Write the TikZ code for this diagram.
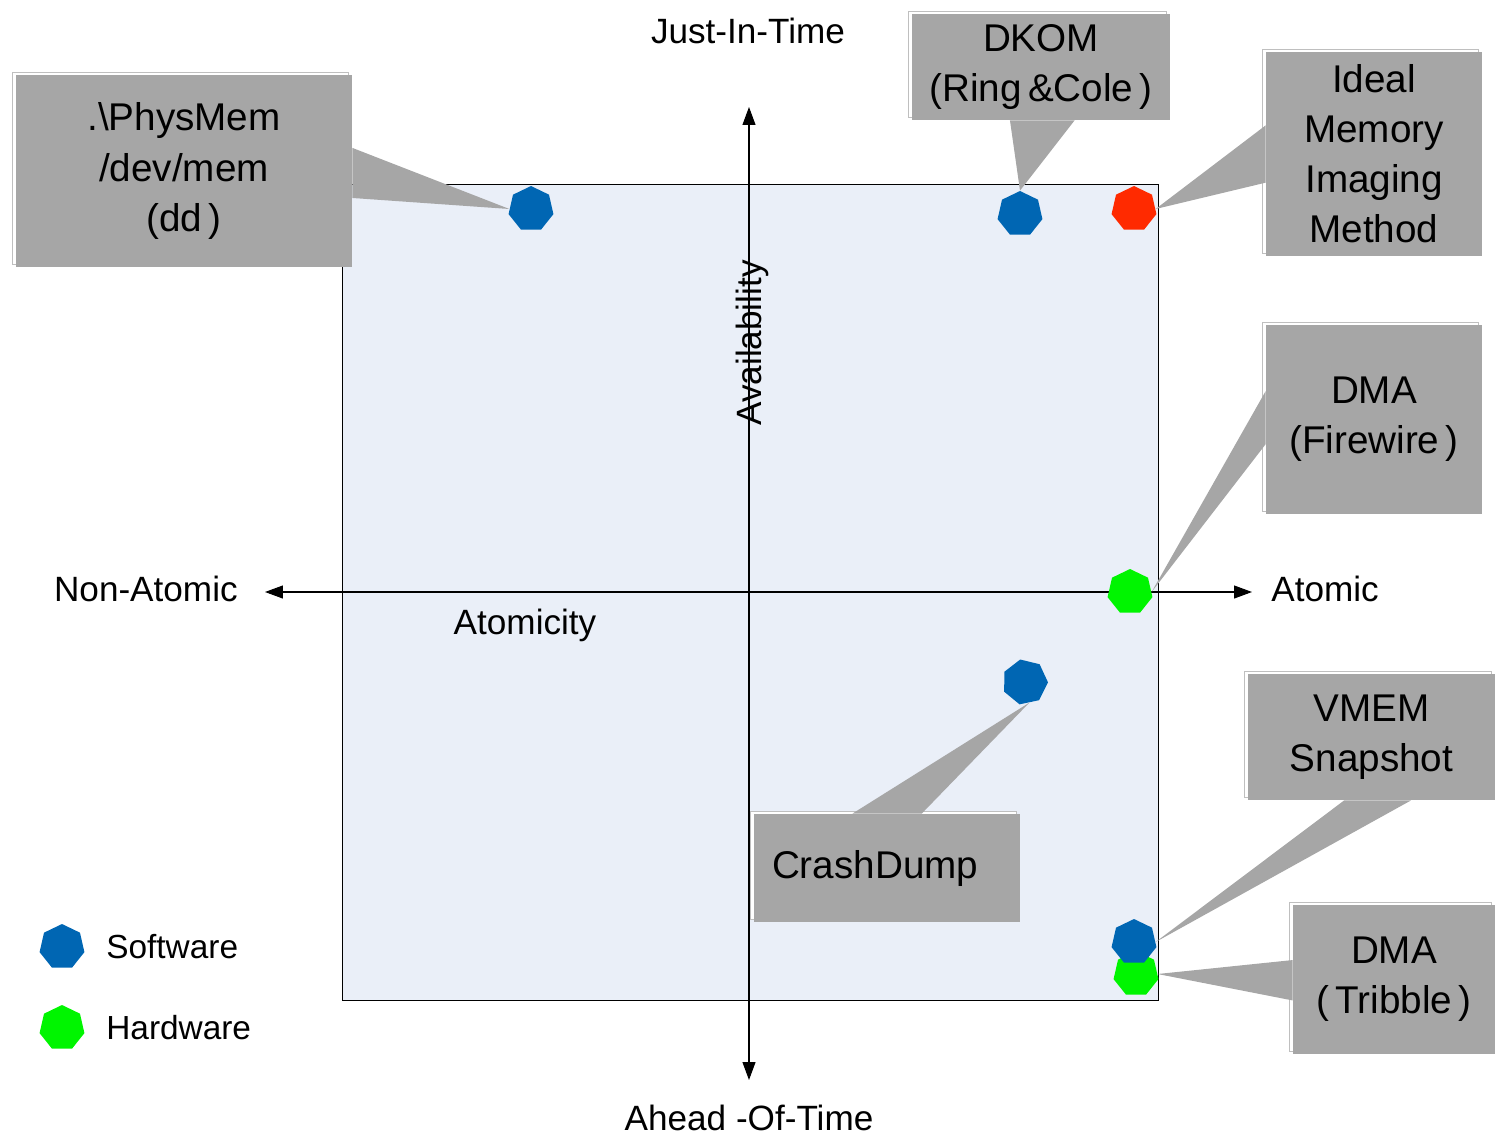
\documentclass[tikz,border=0pt]{standalone}
\usepackage{fontspec}
\setmainfont{Liberation Sans}
\usepackage{tikz}
\usetikzlibrary{shapes.geometric, arrows.meta, calc, shadows}

\definecolor{swblue}{RGB}{0,102,179}
\definecolor{hwgreen}{RGB}{0,245,0}
\definecolor{idealred}{RGB}{255,42,0}
\definecolor{callgray}{RGB}{166,166,166}
\definecolor{planebg}{RGB}{234,239,248}

\begin{document}
\begin{tikzpicture}[x=0.02cm, y=-0.02cm]
      \tikzstyle{method} = [regular polygon, regular polygon sides=7, minimum size=0.92cm, inner sep=0pt]
      \tikzstyle{sw} = [method, fill=swblue]
      \tikzstyle{hw} = [method, fill=hwgreen]
      \tikzstyle{callout} = [rectangle, fill=callgray, align=center, inner sep=0pt, font=\fontsize{22}{28.5}\selectfont, general shadow={draw=black!25, fill=white, shadow xshift=-0.07cm, shadow yshift=0.05cm}]
      \tikzstyle{pointer} = [fill=callgray]
      \tikzstyle{axis} = [line width=0.6pt, {Triangle[length=0.36cm,width=0.26cm]}-{Triangle[length=0.36cm,width=0.26cm]}]
      \tikzstyle{lbl} = [font=\fontsize{20}{24}\selectfont, inner sep=0pt]

      \useasboundingbox (0,0) rectangle (1495,1136);

      % plane and axes
      \draw [fill=planebg, line width=0.5pt] (342,184) rectangle (1158,1000);
      \coordinate (atomL) at (265,592);
      \coordinate (atomR) at (1252,592);
      \coordinate (jitTop) at (749,107);
      \coordinate (aotBot) at (749,1080);
      \draw [axis] (atomL) -- (atomR);
      \draw [axis] (aotBot) -- (jitTop);

      \node (jit) [lbl] at (748,31) {Just-In-Time};
      \node (aot) [lbl] at (749,1118) {Ahead -Of-Time};
      \node (nonatomic) [lbl, anchor=east] at (238,589) {Non-Atomic};
      \node (atomic) [lbl, anchor=west] at (1271,589) {Atomic};
      \node (atomicity) [lbl] at (525,625) {Atomicity};
      \node (availability) [lbl, rotate=90] at (752,343) {Availability};

      % callouts
      \node (physbox) [callout, minimum width=6.72cm, minimum height=3.84cm] at (184,171) {.\textbackslash PhysMem\\/dev/mem\\(dd\,)};
      \node (dkombox) [callout, minimum width=5.16cm, minimum height=2.12cm] at (1041,67) {DKOM\\(Ring\,\&Cole\,)};
      \node (idealbox) [callout, minimum width=4.32cm, minimum height=4.08cm] at (1374,154) {Ideal\\Memory\\Imaging\\Method};
      \node (firebox) [callout, minimum width=4.32cm, minimum height=3.78cm] at (1374,419.5) {DMA\\(Firewire\,)};
      \node (crashbox) [callout, minimum width=5.32cm, minimum height=2.16cm, text width=5.32cm, align=left] at (887,868) {\hspace*{0.36cm}CrashDump};
      \node (vmembox) [callout, minimum width=4.94cm, minimum height=2.52cm] at (1371.5,737) {VMEM\\Snapshot};
      \node (tribbox) [callout, minimum width=4.04cm, minimum height=2.98cm] at (1394,979.5) {DMA\\(\,Tribble\,)};

      % methods
      \node (physdot) [sw] at (531,209) {};
      \node (dkomdot) [sw] at (1020,214) {};
      \node (idealdot) [method, fill=idealred] at (1134,209) {};
      \node (firedot) [hw] at (1130,592) {};
      \node (crashdot) [sw, rotate=12] at (1025,682) {};
      \node (tribdot) [hw] at (1136,974) {};
      \node (vmemdot) [sw] at (1134,942) {};

      \fill [pointer] ($(physbox.north east)!0.38!(physbox.south east)$) -- (physdot.west) -- ($(physbox.north east)!0.64!(physbox.south east)$) -- cycle;
      \fill [pointer] ($(dkombox.south west)!0.38!(dkombox.south east)$) -- (dkomdot.north) -- ($(dkombox.south west)!0.63!(dkombox.south east)$) -- cycle;
      \fill [pointer] ($(idealbox.north west)!0.36!(idealbox.south west)$) -- (idealdot.east) -- ($(idealbox.north west)!0.64!(idealbox.south west)$) -- cycle;
      \fill [pointer] ($(firebox.north west)!0.35!(firebox.south west)$) -- (firedot.east) -- ($(firebox.north west)!0.63!(firebox.south west)$) -- cycle;
      \fill [pointer] ($(crashbox.north west)!0.37!(crashbox.north east)$) -- (crashdot.south) -- ($(crashbox.north west)!0.63!(crashbox.north east)$) -- cycle;
      \fill [pointer] ($(vmembox.south west)!0.39!(vmembox.south east)$) -- (vmemdot.east) -- ($(vmembox.south west)!0.66!(vmembox.south east)$) -- cycle;
      \fill [pointer] ($(tribbox.north west)!0.37!(tribbox.south west)$) -- (tribdot.east) -- ($(tribbox.north west)!0.64!(tribbox.south west)$) -- cycle;

      % legend
      \node (swkey) [sw] at (62,947) {};
      \node (hwkey) [hw] at (62,1028) {};
      \node (swtext) [lbl, anchor=west, font=\fontsize{19}{23}\selectfont] at (106,947) {Software};
      \node (hwtext) [lbl, anchor=west, font=\fontsize{19}{23}\selectfont] at (106,1028) {Hardware};

\end{tikzpicture}
\end{document}
